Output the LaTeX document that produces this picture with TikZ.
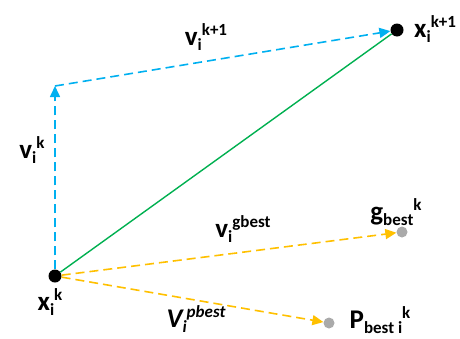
\documentclass[tikz,border=0pt]{standalone}
\usepackage{fontspec}
\setmainfont{Carlito}
\usetikzlibrary{arrows.meta}
\definecolor{cblue}{RGB}{0,176,240}
\definecolor{cgreen}{RGB}{0,176,80}
\definecolor{corange}{RGB}{255,192,0}
\definecolor{cgray}{RGB}{170,170,170}
\newcommand\lblx[3]{#1\raisebox{-0.18em}{\fontsize{17}{18}\selectfont #2}\raisebox{0.36em}{\fontsize{17}{18}\selectfont #3}}
\begin{document}
\begin{tikzpicture}[x=1pt,y=-1pt,
  bigdot/.style={circle,fill=black,inner sep=0pt,minimum size=13pt},
  graydot/.style={circle,fill=cgray,inner sep=0pt,minimum size=11pt},
  vec/.style={line width=1.6pt,dash pattern=on 9pt off 5pt,-{Triangle[length=11pt,width=10pt]}},
  lbl/.style={font=\fontsize{27}{30}\selectfont\bfseries,inner sep=0pt}]
\useasboundingbox (0,0) rectangle (460,338);
\node[bigdot] (xk) at (55,276) {};
\node[bigdot] (xk1) at (397,30) {};
\coordinate (c) at (55,86);
\node[graydot] (g) at (402,232) {};
\node[graydot] (p) at (329,323) {};
\draw[vec,cblue] (xk) -- (c);
\draw[vec,cblue] (c) -- (xk1);
\draw[cgreen,line width=1.4pt] (xk) -- (xk1);
\draw[vec,corange] (xk) -- (g);
\draw[vec,corange] (xk) -- (p);
\node[lbl] (l1) at (206,37) {\lblx{v}{i}{k+1}};
\node[lbl,anchor=west] (l2) at (414,29) {\lblx{x}{i}{k+1}};
\node[lbl] (l3) at (32,150) {\lblx{v}{i}{k}};
\node[lbl] (l4) at (396,212) {\lblx{g}{best}{k}};
\node[lbl] (l5) at (243,229) {\lblx{v}{i}{gbest}};
\node[lbl] (l6) at (50,302) {\lblx{x}{i}{k}};
\node[lbl,font=\fontsize{27}{30}\selectfont\bfseries\itshape] (l7) at (196,319) {\lblx{V}{i}{pbest}};
\node[lbl] (l8) at (380,320) {\lblx{P}{best i}{k}};
\end{tikzpicture}
\end{document}
